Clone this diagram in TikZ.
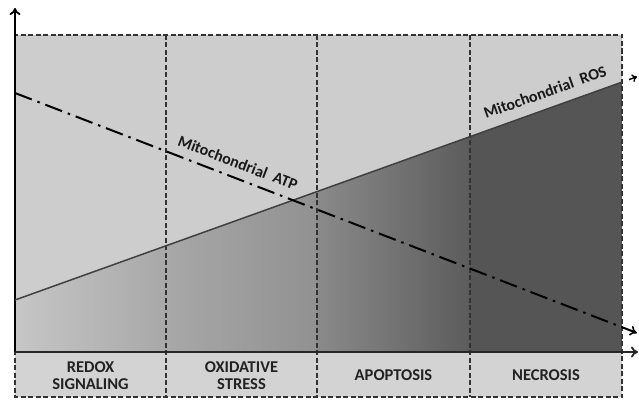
\documentclass[tikz,border=0pt]{standalone}
\usepackage{fontspec}
\setmainfont{Carlito}
\usetikzlibrary{arrows.meta}
\definecolor{upgray}{HTML}{CDCDCD}
\definecolor{bandgray}{HTML}{D3D3D3}
\definecolor{txtgray}{HTML}{222222}
\definecolor{gA}{RGB}{198,198,198}
\definecolor{gB}{RGB}{168,168,168}
\definecolor{gC}{RGB}{145,145,145}
\definecolor{gD}{RGB}{138,138,138}
\definecolor{gE}{RGB}{92,92,92}
\definecolor{gF}{RGB}{85,85,85}
\begin{document}
\begin{tikzpicture}[x=1pt,y=-1pt,
  boxdash/.style={draw=black!80,line width=1.2pt,dash pattern=on 5pt off 2.5pt},
  axisline/.style={draw=black,line width=2pt,-{To[length=7pt,width=11pt,line width=1.8pt]}},
  bandtxt/.style={font=\bfseries\fontsize{16.5}{17}\selectfont,text=txtgray,align=center},
  curvetxt/.style={font=\bfseries\fontsize{16}{18}\selectfont,text=black!90},
  atpline/.style={draw=black,line width=2pt,dash pattern=on 18pt off 6pt on 2.5pt off 6pt},
  rosline/.style={draw=black!75,line width=1.5pt}]
\useasboundingbox (0,0) rectangle (639,401);
% background fills
\fill[upgray] (15,35) rectangle (622,352);
\fill[bandgray] (15,352) rectangle (622,397);
\shade[left color=gA,right color=gB]
  (15,352) -- (15,300) -- (166,245.8) -- (166,352) -- cycle;
\shade[left color=gB,right color=gC]
  (166,352) -- (166,245.8) -- (317,191.6) -- (317,352) -- cycle;
\shade[left color=gD,right color=gE]
  (317,352) -- (317,191.6) -- (470,136.7) -- (470,352) -- cycle;
\fill[gF]
  (470,352) -- (470,136.7) -- (622,82.1) -- (622,352) -- cycle;
% dashed frame and dividers
\coordinate (tl) at (15,35); \coordinate (br) at (622,397);
\draw[boxdash] (tl) rectangle (br);
\foreach \x/\n in {166/a,317/b,470/c}{
  \coordinate (d\n top) at (\x,35); \coordinate (d\n bot) at (\x,397);
  \draw[boxdash] (d\n top) -- (d\n bot);}
% axes
\coordinate (origin) at (15,352);
\coordinate (ytip) at (15,8);
\coordinate (xtip) at (638,352);
\draw[axisline] (origin) -- (ytip);
\draw[axisline,draw=black!85] (origin) -- (xtip);
% ROS line
\coordinate (ros0) at (15,300);
\coordinate (ros1) at (622,82.1);
\coordinate (rosA) at (629,79.6);
\coordinate (rosB) at (637,76.7);
\draw[rosline] (ros0) -- (ros1);
\draw[black,line width=1.4pt,-{To[length=5pt,width=8pt,line width=1.4pt]}] (rosA) -- (rosB);
% ATP line
\coordinate (atp0) at (15,93);
\coordinate (atp1) at (637,333);
\draw[atpline,-{To[length=7pt,width=10pt,line width=1.6pt]}] (atp0) -- (atp1);
% curve labels
\node[curvetxt,rotate=-21] (atplab) at (238,163) {Mitochondrial\ \ ATP};
\node[curvetxt,rotate=19.7] (roslab) at (545,92) {Mitochondrial\ \ ROS};
% band labels
\node[bandtxt] (redox) at (90.5,376) {REDOX\\SIGNALING};
\node[bandtxt] (oxid) at (241.5,376) {OXIDATIVE\\STRESS};
\node[bandtxt] (apop) at (393.5,375) {APOPTOSIS};
\node[bandtxt] (necr) at (546,375) {NECROSIS};
\end{tikzpicture}
\end{document}
